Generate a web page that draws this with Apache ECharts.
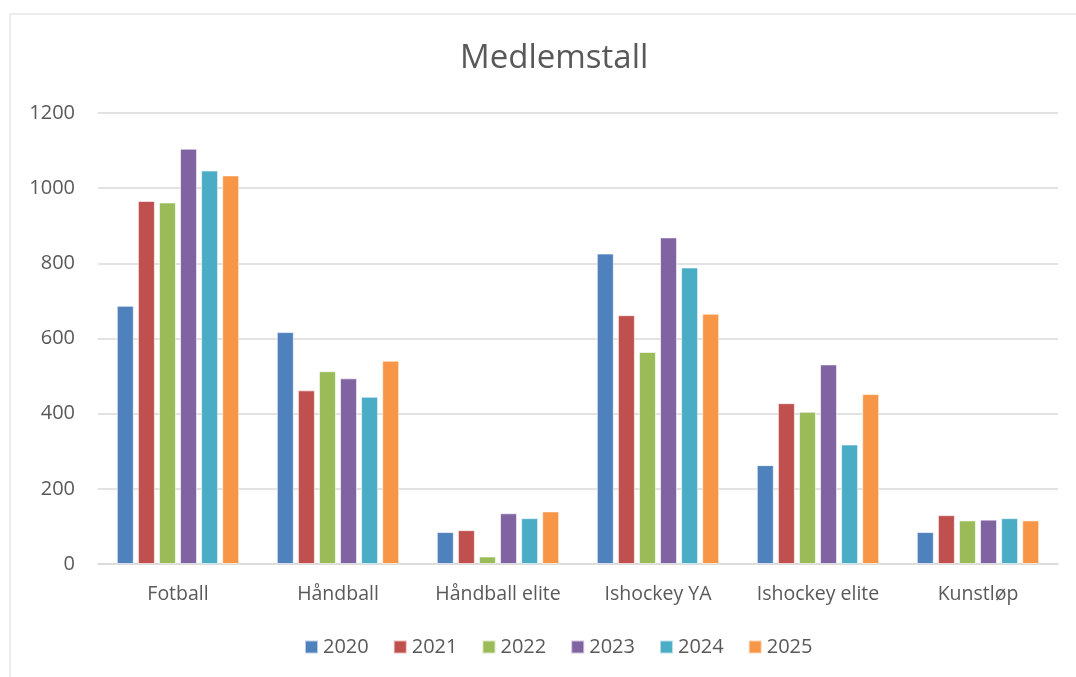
<!DOCTYPE html>
<html>
<head>
<meta charset="utf-8">
<script src="https://cdn.jsdelivr.net/npm/echarts@6/dist/echarts.min.js"></script>
<style>
  html, body { margin: 0; padding: 0; background: #fff; }
  #chart { width: 1076px; height: 677px; }
</style>
</head>
<body>
<div id="chart"></div>
<script>
var categories = ['Fotball', 'Håndball', 'Håndball elite', 'Ishockey YA', 'Ishockey elite', 'Kunstløp'];
var years = ['2020', '2021', '2022', '2023', '2024', '2025'];
var colors = ['#4F81BD', '#C0504D', '#9BBB59', '#8064A2', '#4BACC6', '#F79646'];

// one array per year, in category order
var v2020 = [687, 617, 85, 826, 263, 85];
var v2021 = [966, 462, 90, 662, 428, 130];
var v2022 = [962, 513, 20, 564, 405, 116];
var v2023 = [1105, 494, 135, 869, 531, 118];
var v2024 = [1047, 445, 122, 789, 318, 122];
var v2025 = [1034, 541, 140, 666, 452, 116];
var values = [v2020, v2021, v2022, v2023, v2024, v2025];

var textColor = '#595959';
var font = 'Open Sans, Liberation Sans, sans-serif';

var chart = echarts.init(document.getElementById('chart'));

var series = years.map(function (y, i) {
    return {
        name: y,
        type: 'bar',
        data: values[i],
        barWidth: 17,
        barGap: '24%',
        itemStyle: {
            color: colors[i],
            borderColor: 'rgba(255,255,255,0.6)',
            borderWidth: 1
        }
    };
});

var option = {
    backgroundColor: '#fff',
    color: colors,
    animation: false,
    graphic: [{
        type: 'rect',
        shape: { x: 10, y: 14, width: 1100, height: 700 },
        style: { fill: 'none', stroke: '#d9d9d9', lineWidth: 1 },
        silent: true,
        z: -1
    }],
    title: {
        text: 'Medlemstall',
        left: 455,
        top: 37,
        textStyle: {
            color: textColor,
            fontSize: 33,
            fontWeight: 'normal',
            fontFamily: font
        }
    },
    legend: {
        bottom: 15,
        left: 299,
        itemWidth: 13,
        itemHeight: 13,
        itemGap: 24,
        icon: 'rect',
        textStyle: { color: textColor, fontSize: 20, fontFamily: font }
    },
    grid: {
        left: 98,
        right: 18,
        top: 113,
        bottom: 113
    },
    xAxis: {
        type: 'category',
        data: categories,
        axisTick: { show: false },
        axisLine: { lineStyle: { color: '#d9d9d9', width: 1.5 } },
        axisLabel: {
            color: textColor,
            fontSize: 19.5,
            fontFamily: font,
            margin: 20,
            interval: 0
        }
    },
    yAxis: {
        type: 'value',
        min: 0,
        max: 1200,
        interval: 200,
        axisLine: { show: false },
        axisTick: { show: false },
        axisLabel: {
            color: textColor,
            fontSize: 20,
            fontFamily: font,
            margin: 23,
            formatter: function (v) { return String(v); }
        },
        splitLine: { lineStyle: { color: '#d9d9d9', width: 1.5 } }
    },
    series: series
};

chart.setOption(option);
</script>
</body>
</html>
